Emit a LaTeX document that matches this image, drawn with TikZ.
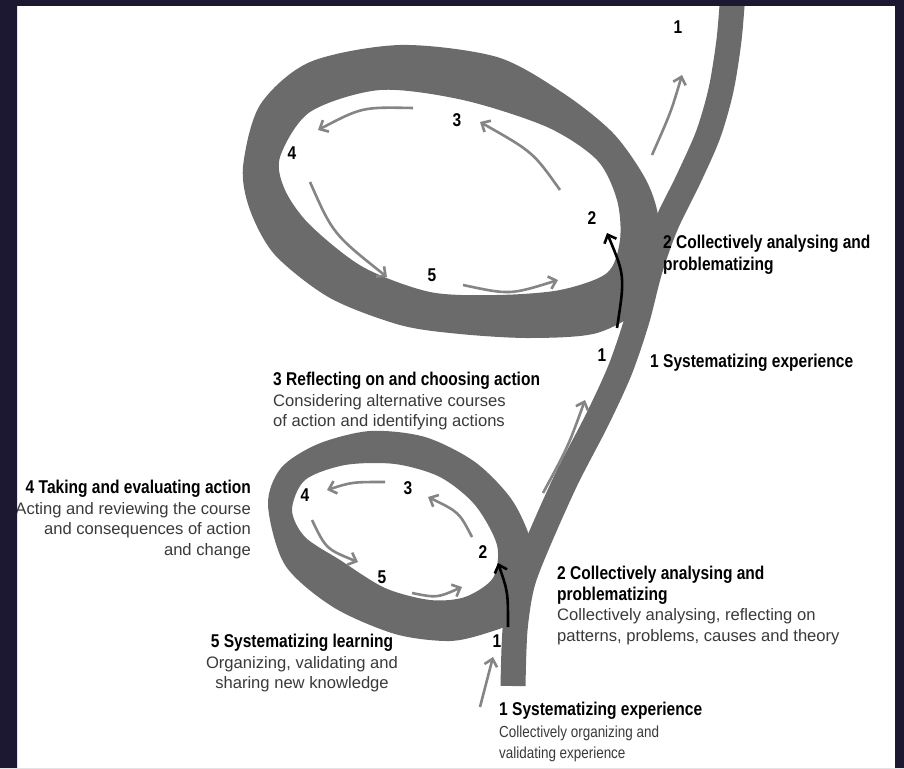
\documentclass[tikz,border=0pt]{standalone}
\usepackage{fontspec}
\setmainfont{Liberation Sans}
\newfontfamily\narrowfont[FakeStretch=0.84]{Liberation Sans}
\usetikzlibrary{arrows.meta}
\definecolor{ribbon}{HTML}{6B6B6B}
\definecolor{flowgray}{HTML}{858585}
\definecolor{borderblue}{HTML}{1C1832}
\definecolor{bodytext}{HTML}{3A3A3A}
\newcommand{\stagetitle}[1]{{\narrowfont\bfseries\fontsize{18.5}{21}\selectfont\color{black}#1}}

\tikzset{
	band/.style={fill=ribbon},
	flow/.style={draw=flowgray, line width=2.6pt, -{Straight Barb[length=7pt,width=13pt]}},
	push/.style={flow, draw=black},
	num/.style={font=\narrowfont\bfseries\fontsize{18.5}{21}\selectfont, inner sep=0pt},
	caption/.style={font=\fontsize{16.6}{20.5}\selectfont, text=bodytext, inner sep=0pt}
}

\begin{document}
\begin{tikzpicture}[x=1pt,y=-1pt]
	\useasboundingbox (0,0) rectangle (904,768);
	\fill[white] (0,0) rectangle (904,768);

	\draw[ribbon, line width=25pt] plot[smooth] coordinates {(513,686) (515,630) (522,585) (537,545) (566,480) (597,420) (620,370) (637,320) (650,270) (666,225) (688,180) (708,135) (721,90) (729,40) (733,-8)};

	\fill[band, even odd rule]
		plot[smooth cycle] coordinates {(243,167) (260,105) (310,62) (400,45) (497,57) (563,93) (613,133) (645,178) (658,215) (658,260) (645,305) (597,333) (530,338) (460,334) (400,325) (330,298) (275,255) (250,210)}
		plot[smooth cycle] coordinates {(280,157) (310,112) (380,90) (463,100) (547,127) (597,160) (617,200) (620,240) (607,273) (560,290) (497,295) (430,292) (363,267) (310,225) (285,190)};

	\fill[band, even odd rule]
		plot[smooth cycle] coordinates {(268,505) (281,468) (318,444) (370,431) (425,437) (475,462) (512,500) (532,545) (533,590) (516,620) (490,632) (450,641) (395,634) (333,607) (285,565)}
		plot[smooth cycle] coordinates {(292,510) (305,480) (345,465) (395,464) (440,477) (475,505) (497,545) (493,578) (465,597) (430,600) (385,588) (340,560) (305,537)};

	\node[num] (u1) at (678,27) {1};
	\node[num] (u2) at (592,218) {2};
	\node[num] (u3) at (457,120) {3};
	\node[num] (u4) at (292,153) {4};
	\node[num] (u5) at (432,275) {5};
	\node[num] (m1) at (602,355) {1};
	\node[num] (l1) at (497,641) {1};
	\node[num] (l2) at (483,552) {2};
	\node[num] (l3) at (408,488) {3};
	\node[num] (l4) at (305,495) {4};
	\node[num] (l5) at (382,577) {5};

	\coordinate (u23a) at (560,190);
	\coordinate (u23b) at (480,122);
	\coordinate (u34a) at (413,108);
	\coordinate (u34b) at (318,130);
	\coordinate (u45a) at (310,182);
	\coordinate (u45b) at (387,277);
	\coordinate (u52a) at (463,285);
	\coordinate (u52b) at (558,280);
	\coordinate (u12a) at (617,328);
	\coordinate (u12b) at (607,233);
	\coordinate (outa) at (652,155);
	\coordinate (outb) at (682,75);
	\coordinate (l23a) at (472,537);
	\coordinate (l23b) at (428,497);
	\coordinate (l34a) at (385,482);
	\coordinate (l34b) at (327,490);
	\coordinate (l45a) at (312,520);
	\coordinate (l45b) at (358,562);
	\coordinate (l52a) at (412,593);
	\coordinate (l52b) at (462,587);
	\coordinate (l12a) at (508,627);
	\coordinate (l12b) at (498,563);
	\coordinate (ina) at (480,707);
	\coordinate (inb) at (493,657);
	\coordinate (upa) at (543,493);
	\coordinate (upb) at (585,400);

	\draw[flow] (u23a) .. controls (533,152) .. (u23b);
	\draw[flow] (u34a) .. controls (362,107) .. (u34b);
	\draw[flow] (u45a) .. controls (333,234) .. (u45b);
	\draw[flow] (u52a) .. controls (510,295) .. (u52b);
	\draw[push] (u12a) .. controls (625,276) .. (u12b);
	\draw[flow] (outa) .. controls (671,112) .. (outb);
	\draw[flow] (l23a) .. controls (459,512) .. (l23b);
	\draw[flow] (l34a) .. controls (352,482) .. (l34b);
	\draw[flow] (l45a) .. controls (326,549) .. (l45b);
	\draw[flow] (l52a) .. controls (437,598) .. (l52b);
	\draw[push] (l12a) .. controls (508,592) .. (l12b);
	\draw[flow] (ina) -- (inb);
	\draw[flow] (upa) .. controls (568,447) .. (upb);

	\node[caption, anchor=north west, align=left, font=\fontsize{16.6}{22}\selectfont] (upper2) at (663,235) {\stagetitle{2 Collectively analysing and}\\\stagetitle{problematizing}};
	\node[caption, anchor=north west] (upper1) at (650,354) {\stagetitle{1 Systematizing experience}};
	\node[caption, anchor=north west, align=left] (reflect) at (273,372) {\stagetitle{3 Reflecting on and choosing action}\\Considering alternative courses\\of action and identifying actions};
	\node[caption, anchor=north east, align=right] (taking) at (251,480) {\stagetitle{4 Taking and evaluating action}\\Acting and reviewing the course\\and consequences of action\\and change};
	\node[caption, anchor=north, align=center] (learning) at (302,634) {\stagetitle{5 Systematizing learning}\\Organizing, validating and\\sharing new knowledge};
	\node[caption, anchor=north west, align=left] (lower2) at (557,566) {\stagetitle{2 Collectively analysing and}\\\stagetitle{problematizing}\\Collectively analysing, reflecting on\\patterns, problems, causes and theory};
	\node[caption, anchor=north west, align=left, font=\narrowfont\fontsize{16}{21.5}\selectfont] (lower1) at (499,702) {\stagetitle{1 Systematizing experience}\\Collectively organizing and\\validating experience};

	\fill[borderblue, even odd rule] (0,0) rectangle (904,768) (17,6) rectangle (895,768);
\end{tikzpicture}
\end{document}
